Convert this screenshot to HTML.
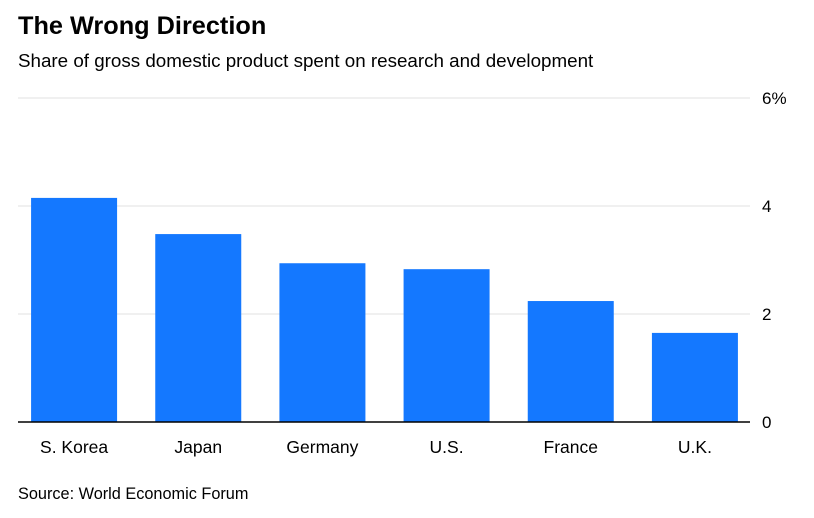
<!DOCTYPE html>
<html><head><meta charset="utf-8"><style>
body{margin:0;background:#fff;font-family:"Liberation Sans",sans-serif;}
svg{display:block}
</style></head><body>
<svg width="814" height="518">
<text x="18" y="34" font-size="25.3" font-weight="bold" fill="#000">The Wrong Direction</text>
<text x="18" y="67" font-size="18.8" fill="#000">Share of gross domestic product spent on research and development</text>
<g id="grid"></g>
<g id="bars"></g>
<g id="xlabels"></g>
<line x1="18" x2="750" y1="422" y2="422" stroke="#000" stroke-width="1.5"/>
<text x="18" y="499" font-size="16.3" fill="#000">Source: World Economic Forum</text>
</svg>
<script>
const categories=["S. Korea","Japan","Germany","U.S.","France","U.K."];
const values=[4.15,3.48,2.94,2.83,2.24,1.65];
const ticks=[0,2,4,6];
const tickLabels=["0","2","4","6%"];
const NS="http://www.w3.org/2000/svg";
const y0=422,pxPer=54;
function y(v){return y0-v*pxPer;}
const xStart=12,step=(757-12)/6,bw=86;
function xc(i){return xStart+step*(i+0.5);}
const grid=document.getElementById('grid');
ticks.forEach((t,i)=>{
 if(t!==0){const l=document.createElementNS(NS,'line');
 l.setAttribute('x1',18);l.setAttribute('x2',750);l.setAttribute('y1',y(t));l.setAttribute('y2',y(t));
 l.setAttribute('stroke','#ebebeb');l.setAttribute('stroke-width','1.5');
 
 
 grid.appendChild(l);}
 const tx=document.createElementNS(NS,'text');
 tx.setAttribute('x',762);tx.setAttribute('y',y(t)+6);tx.setAttribute('font-size','17');
 tx.textContent=tickLabels[i];
 
 
 grid.appendChild(tx);
});
const bars=document.getElementById('bars'),xl=document.getElementById('xlabels');
categories.forEach((c,i)=>{
 const r=document.createElementNS(NS,'rect');
 r.setAttribute('x',xc(i)-bw/2);r.setAttribute('width',bw);
 r.setAttribute('y',y(values[i]));r.setAttribute('height',y0-y(values[i]));
 r.setAttribute('fill','#1478ff');
 
 
 bars.appendChild(r);
 const t=document.createElementNS(NS,'text');
 t.setAttribute('x',xc(i));t.setAttribute('y',453);t.setAttribute('font-size','17.5');
 t.setAttribute('text-anchor','middle');t.textContent=c;
 
 
 xl.appendChild(t);
});
</script>
</body></html>
